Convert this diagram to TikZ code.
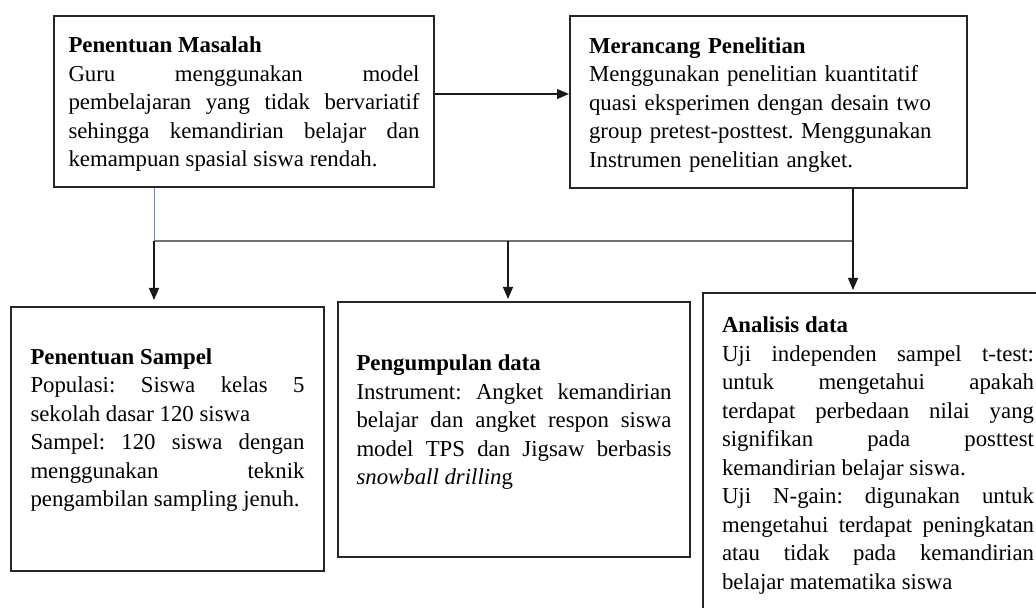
\documentclass[tikz,border=0pt]{standalone}
\usepackage{fontspec}
\setmainfont{Liberation Serif}
\usetikzlibrary{arrows.meta}
\definecolor{lineblue}{RGB}{91,140,220}
\frenchspacing

\begin{document}
\begin{tikzpicture}[x=0.5pt, y=-0.5pt,
    box/.style = {draw=black!85, line width=1pt, anchor=north west, inner sep=0pt, align=justify, font=\fontsize{11.4pt}{14.25pt}\selectfont},
    arr/.style = {-{Triangle[width=5pt,length=6pt]}, black!90, line width=0.6pt}]
    \useasboundingbox (0,0) rectangle (1036,608);
    \clip (0,0) rectangle (1036,608);
    \node[box, minimum width=190pt, minimum height=85.5pt, text width=175.5pt] (1) at (53,15) {\textbf{Penentuan Masalah}\\
        Guru menggunakan model\linebreak
        pembelajaran yang tidak bervariatif\linebreak
        sehingga kemandirian belajar dan\linebreak
        kemampuan spasial siswa rendah.\par\kern-3pt};
    \node[box, align=left, minimum width=198.5pt, minimum height=86pt, text width=179.5pt] (2) at (569,15) {\textbf{Merancang Penelitian}\\
        Menggunakan penelitian kuantitatif\\
        quasi eksperimen dengan desain two\\
        group pretest-posttest. Menggunakan\\
        Instrumen penelitian angket.\par\kern-3pt};
    \node[box, minimum width=156.5pt, minimum height=132pt, text width=137pt] (3) at (10,306) {\textbf{Penentuan Sampel}\\
        Populasi: Siswa kelas 5\linebreak
        sekolah dasar 120 siswa\\
        Sampel: 120 siswa dengan\linebreak
        menggunakan teknik\linebreak
        pengambilan sampling jenuh.\par\kern9pt};
    \node[box, minimum width=176pt, minimum height=127.5pt, text width=157.5pt] (4) at (337,301) {\textbf{Pengumpulan data}\\
        Instrument: Angket kemandirian\linebreak
        belajar dan angket respon siswa\linebreak
        model TPS dan Jigsaw berbasis\linebreak
        \textit{snowball drillin}g\par\kern7pt};
    \node[box, inner ysep=12pt, minimum width=175pt, text width=156pt] (5) at (702,292) {\textbf{Analisis data}\\
        Uji independen sampel t-test:\linebreak
        untuk mengetahui apakah\linebreak
        terdapat perbedaan nilai yang\linebreak
        signifikan pada posttest\linebreak
        kemandirian belajar siswa.\\
        Uji N-gain: digunakan untuk\linebreak
        mengetahui terdapat peningkatan\linebreak
        atau tidak pada kemandirian\linebreak
        belajar matematika siswa\par\kern20pt};
    % branch points
    \coordinate (m) at (500,94);
    \coordinate (a) at (154,241);
    \coordinate (b) at (508,241);
    \coordinate (c) at (853,241);
    \draw[arr] (m -| 1.east) -- (m -| 2.west);
    \draw[lineblue, line width=0.5pt] (a |- 1.south) -- (a);
    \draw[black!55, line width=0.9pt] (a) -- (c);
    \draw[black!90, line width=0.6pt] (c |- 2.south) -- (c);
    \draw[arr, shorten >=3pt] (a) -- (a |- 3.north);
    \draw[arr, shorten >=1pt] (b) -- (b |- 4.north);
    \draw[arr, shorten >=1pt] (c) -- (c |- 5.north);
\end{tikzpicture}
\end{document}
